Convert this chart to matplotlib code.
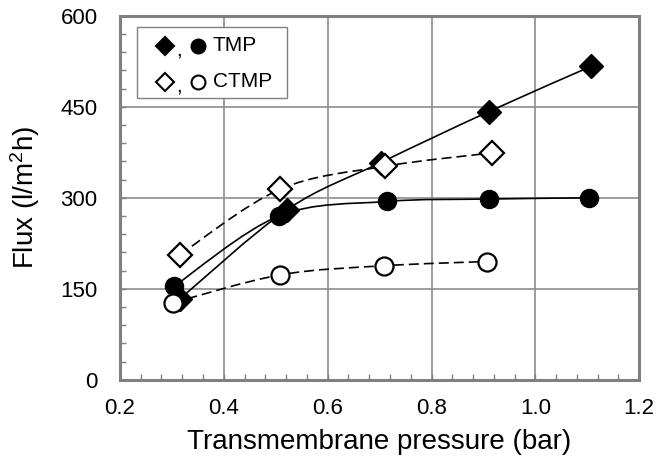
import matplotlib
matplotlib.use("Agg")
import matplotlib.pyplot as plt
from matplotlib.path import Path
from matplotlib.patches import PathPatch, Rectangle
from matplotlib.ticker import MultipleLocator

plt.rcParams['font.family'] = ['Liberation Sans', 'DejaVu Sans']
plt.rcParams['mathtext.fontset'] = 'custom'
plt.rcParams['mathtext.rm'] = 'Liberation Sans'
plt.rcParams['mathtext.it'] = 'Liberation Sans:italic'

# flux vs transmembrane pressure
tmp_d_x = [0.315, 0.521, 0.702, 0.910, 1.108]
tmp_d_y = [133, 280, 358, 442, 517]
tmp_c_x = [0.304, 0.506, 0.714, 0.910, 1.104]
tmp_c_y = [154, 270, 294, 298, 300]
ctmp_d_x = [0.315, 0.508, 0.710, 0.916]
ctmp_d_y = [206, 314, 352, 374]
ctmp_c_x = [0.302, 0.509, 0.708, 0.906]
ctmp_c_y = [127, 173, 188, 195]

xticks = [0.2, 0.4, 0.6, 0.8, 1.0, 1.2]
yticks = [0, 150, 300, 450, 600]


def smooth_path(xs, ys):
    # excel-style smoothed line: cubic bezier through each point
    pts = list(zip(xs, ys))
    n = len(pts)
    verts = [pts[0]]
    codes = [Path.MOVETO]
    for i in range(n - 1):
        p0 = pts[i - 1] if i > 0 else pts[i]
        p1 = pts[i]
        p2 = pts[i + 1]
        p3 = pts[i + 2] if i + 2 < n else pts[i + 1]
        b1 = (p1[0] + (p2[0] - p0[0]) / 6, p1[1] + (p2[1] - p0[1]) / 6)
        b2 = (p2[0] - (p3[0] - p1[0]) / 6, p2[1] - (p3[1] - p1[1]) / 6)
        verts += [b1, b2, p2]
        codes += [Path.CURVE4] * 3
    return Path(verts, codes)


fig = plt.figure(figsize=(6.59, 4.66), dpi=100)
ax = fig.add_axes([0.182, 0.185, 0.788, 0.781])

for xs, ys, ls in [(tmp_d_x, tmp_d_y, '-'), (tmp_c_x, tmp_c_y, '-'),
                   (ctmp_d_x, ctmp_d_y, (0, (6, 3))), (ctmp_c_x, ctmp_c_y, (0, (6, 3)))]:
    ax.add_patch(PathPatch(smooth_path(xs, ys), facecolor='none', edgecolor='black',
                           lw=1.2, linestyle=ls, zorder=3))

ax.plot(tmp_c_x, tmp_c_y, 'o', ms=13, color='black', zorder=4)
ax.plot(tmp_d_x, tmp_d_y, 'D', ms=12, color='black', zorder=4)
ax.plot(ctmp_d_x, ctmp_d_y, 'D', ms=12.5, mfc='white', mec='black', mew=1.6, zorder=5)
ax.plot(ctmp_c_x, ctmp_c_y, 'o', ms=13, mfc='white', mec='black', mew=1.6, zorder=5)

ax.set_xlim(0.2, 1.2)
ax.set_ylim(0, 600)
ax.set_xticks(xticks)
ax.set_xticklabels(['%.1f' % v for v in xticks])
ax.set_yticks(yticks)
ax.xaxis.set_minor_locator(MultipleLocator(0.04))
ax.yaxis.set_minor_locator(MultipleLocator(30))
ax.tick_params(which='both', direction='in', color='#808080', width=1, length=4,
               top=False, right=False)
ax.tick_params(axis='x', labelsize=16, pad=13)
ax.tick_params(axis='y', labelsize=16, pad=16)
ax.grid(True, which='major', color='#8c8c8c', lw=1.2)
ax.set_axisbelow(True)
for s in ax.spines.values():
    s.set_color('#808080')
    s.set_linewidth(2.2)

ax.set_xlabel('Transmembrane pressure (bar)', fontsize=20, labelpad=7)
ax.set_ylabel('Flux (l/m$^{2}$h)', fontsize=20, labelpad=13)

# legend box drawn by hand to get the "marker , marker" layout
ax.add_patch(Rectangle((0.033, 0.775), 0.289, 0.195, transform=ax.transAxes,
                       facecolor='white', edgecolor='#808080', lw=1, zorder=6))
rows = [(0.918, 'black', 'TMP'), (0.819, 'white', 'CTMP')]
for ry, fc, label in rows:
    ax.plot([0.087], [ry], 'D', ms=9, mfc=fc, mec='black', mew=1.5,
            transform=ax.transAxes, zorder=7, clip_on=False)
    ax.plot([0.150], [ry], 'o', ms=10, mfc=fc, mec='black', mew=1.5,
            transform=ax.transAxes, zorder=7, clip_on=False)
    ax.text(0.113, ry - 0.028, ',', fontsize=15, ha='center', va='baseline',
            transform=ax.transAxes, zorder=7)
    ax.text(0.179, ry, label, fontsize=15, ha='left', va='center',
            transform=ax.transAxes, zorder=7)

fig.savefig('out.png', dpi=100)
